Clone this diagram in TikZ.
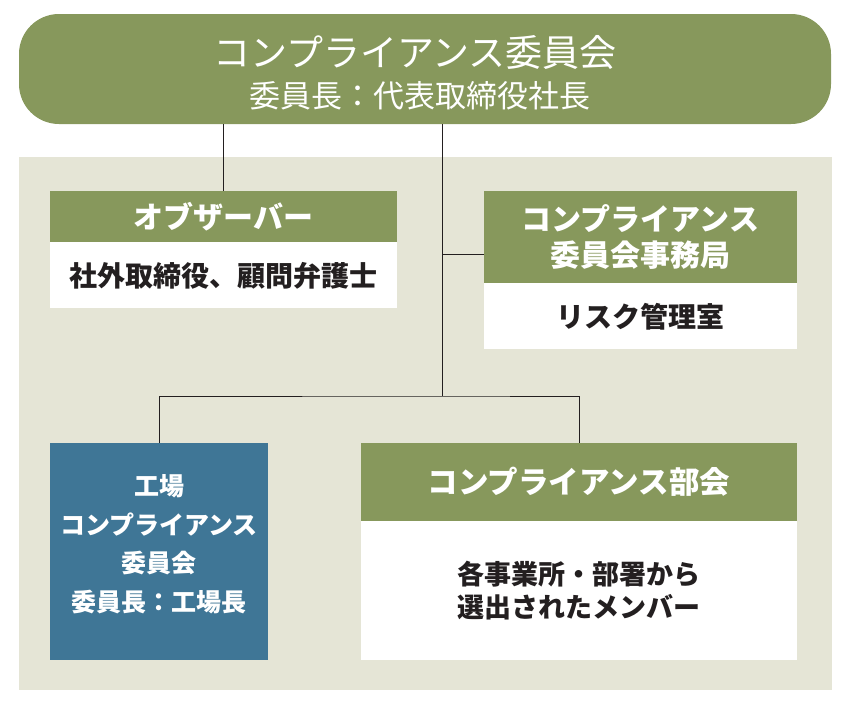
\documentclass[tikz,border=0pt]{standalone}
\usepackage{fontspec}
\setmainfont{Noto Sans CJK JP}
\usetikzlibrary{positioning}
\definecolor{cgreen}{HTML}{87985C}
\definecolor{cpanel}{HTML}{E5E5D6}
\definecolor{cblue}{HTML}{3F7696}
\definecolor{cink}{HTML}{231F20}
\newcommand\fsz[2]{\fontsize{#1}{#2}\selectfont}

\begin{document}
\begin{tikzpicture}[x=1pt,y=-1pt,
  headbox/.style={fill=cgreen,text=white,inner sep=0pt,align=center,font=\bfseries\fsz{30}{36}},
  bodybox/.style={fill=white,text=cink,inner sep=0pt,align=center,font=\bfseries\fsz{28}{33}},
  link/.style={draw=cink,line width=1pt}]
\useasboundingbox (0,0) rectangle (848,707);
\fill[cpanel] (19,157) rectangle (832,690);
% committee
\node[fill=cgreen,rounded corners=40pt,minimum width=812pt,minimum height=110pt,inner sep=0pt] (top) at (425,69) {};
\node[text=white,font=\fsz{37}{40},anchor=base] (toptitle) at (415,66) {コンプライアンス委員会};
\node[text=white,font=\fsz{31}{36},anchor=base] (topsub) at (420,107.5) {委員長：代表取締役社長};
% observer and secretariat
\node[headbox,minimum width=347pt,minimum height=51pt] (obshead) at (223.5,216.5) {オブザーバー};
\node[bodybox,minimum width=347pt,minimum height=66pt,below=0pt of obshead] (obsbody) {社外取締役、顧問弁護士};
\node[headbox,minimum width=313pt,minimum height=92pt] (sechead) at (640.5,237) {コンプライアンス\\委員会事務局};
\node[bodybox,minimum width=313pt,minimum height=66pt,below=0pt of sechead] (secbody) {リスク管理室};
% lower level
\node[fill=cblue,text=white,inner sep=0pt,align=center,font=\bfseries\fsz{25}{38.5},
  minimum width=218pt,minimum height=217pt,text depth=17pt] (facbox) at (159,551.5)
  {工場\\コンプライアンス\\委員会\\委員長：工場長};
\node[headbox,font=\bfseries\fsz{30.5}{36},minimum width=436pt,minimum height=78pt] (bubhead) at (579,482) {コンプライアンス部会};
\node[bodybox,font=\bfseries\fsz{27}{33},minimum width=436pt,minimum height=139pt,below=0pt of bubhead] (bubbody) {各事業所・部署から\\選出されたメンバー};
% connectors
\coordinate (hub) at (442,396);
\coordinate (secjoin) at (442,254);
\draw[link] (obshead.north) -- (obshead.north |- top.south);
\draw[link] (top.south -| hub) -- (hub);
\draw[link] (secjoin) -- (secjoin -| sechead.west);
\draw[link] (facbox.north) |- (hub) -| (bubhead.north);
\end{tikzpicture}
\end{document}
